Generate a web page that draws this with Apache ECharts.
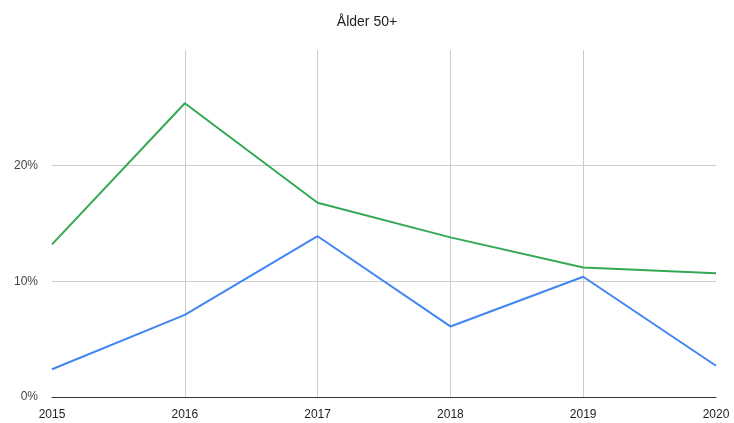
<!DOCTYPE html>
<html>
<head>
<meta charset="utf-8">
<script src="https://cdn.jsdelivr.net/npm/echarts@6/dist/echarts.min.js"></script>
<style>
  html, body { margin: 0; padding: 0; background: #fff; }
  #chart { width: 734px; height: 423px; }
</style>
</head>
<body>
<div id="chart"></div>
<script>
const years = ['2015', '2016', '2017', '2018', '2019', '2020'];
// percent values
const blueValues = [2.4, 7.1, 13.9, 6.1, 10.4, 2.7];
const greenValues = [13.2, 25.4, 16.8, 13.8, 11.2, 10.7];

const chart = echarts.init(document.getElementById('chart'));
chart.setOption({
  animation: false,
  textStyle: { fontFamily: 'Arial, "Liberation Sans", sans-serif' },
  title: {
    text: 'Ålder 50+',
    left: 'center',
    top: 10,
    textStyle: { fontSize: 14, fontWeight: 'normal', color: '#222' }
  },
  grid: { left: 52, right: 18, top: 50, bottom: 26 },
  xAxis: {
    type: 'category',
    data: years,
    boundaryGap: false,
    axisTick: { show: false },
    axisLine: { lineStyle: { color: '#333', width: 1 } },
    axisLabel: { color: '#222', fontSize: 12, margin: 12 },
    splitLine: {
      show: true,
      lineStyle: { color: ['transparent', '#ccc', '#ccc', '#ccc', '#ccc', 'transparent'], width: 1 }
    }
  },
  yAxis: {
    type: 'value',
    min: 0,
    max: 30,
    interval: 10,
    axisLine: { show: false },
    axisTick: { show: false },
    axisLabel: {
      color: '#444',
      fontSize: 12,
      margin: 14,
      formatter: v => (v === 30 ? '' : v + '%')
    },
    splitLine: {
      lineStyle: { color: ['#ccc', '#ccc', '#ccc', 'transparent'], width: 1 }
    }
  },
  series: [
    {
      name: 'blue',
      type: 'line',
      data: blueValues,
      symbol: 'none',
      lineStyle: { color: '#4285f4', width: 2 },
      itemStyle: { color: '#4285f4' }
    },
    {
      name: 'green',
      type: 'line',
      data: greenValues,
      symbol: 'none',
      lineStyle: { color: '#34a853', width: 2 },
      itemStyle: { color: '#34a853' }
    }
  ]
});
</script>
</body>
</html>
